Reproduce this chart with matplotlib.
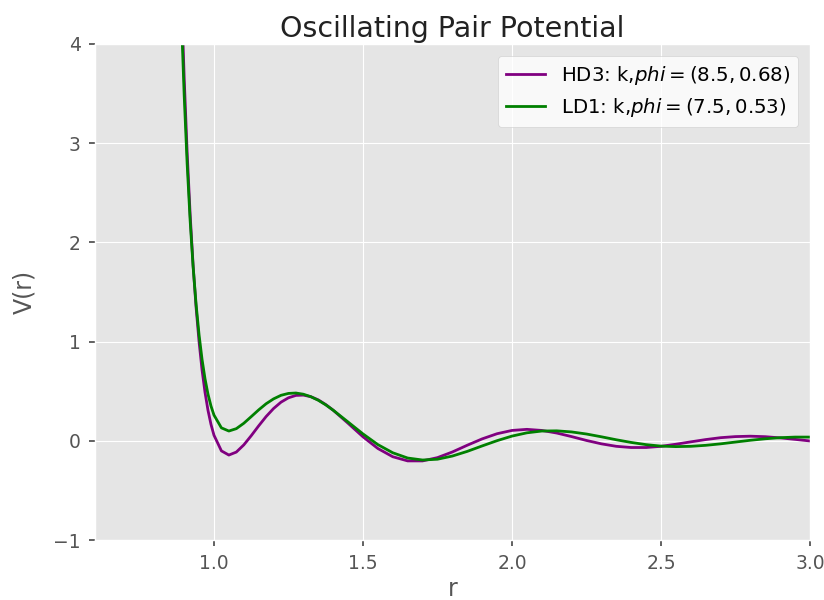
import numpy as np
import matplotlib
matplotlib.use('Agg')
import matplotlib.pyplot as plt

plt.style.use('ggplot')

# r values (denser where the curves bend sharply)
r = [0.89, 0.90, 0.91, 0.92, 0.93, 0.94, 0.95, 0.96, 0.97, 0.98, 0.99, 1.00,
     1.025, 1.05, 1.075, 1.10, 1.125, 1.15, 1.175, 1.20, 1.225, 1.25, 1.275,
     1.30, 1.325, 1.35, 1.375, 1.40, 1.45, 1.50, 1.55, 1.60, 1.65, 1.70, 1.75,
     1.80, 1.85, 1.90, 1.95, 2.00, 2.05, 2.10, 2.15, 2.20, 2.25, 2.30, 2.35,
     2.40, 2.45, 2.50, 2.55, 2.60, 2.65, 2.70, 2.75, 2.80, 2.85, 2.90, 2.95, 3.00]

# HD3 curve
v_hd3 = [4.571, 3.662, 2.908, 2.284, 1.768, 1.344, 0.997, 0.714, 0.487, 0.306, 0.165, 0.056,
         -0.102, -0.144, -0.114, -0.042, 0.051, 0.150, 0.244, 0.325, 0.389, 0.433, 0.457,
         0.460, 0.444, 0.412, 0.365, 0.308, 0.176, 0.040, -0.078, -0.161, -0.203, -0.203, -0.170,
         -0.113, -0.045, 0.019, 0.071, 0.104, 0.115, 0.104, 0.078, 0.042, 0.003, -0.031, -0.056,
         -0.068, -0.068, -0.056, -0.035, -0.011, 0.012, 0.031, 0.042, 0.046, 0.041, 0.029, 0.014, -0.002]

# LD1 curve
v_ld1 = [4.330, 3.485, 2.791, 2.221, 1.755, 1.375, 1.068, 0.820, 0.624, 0.469, 0.350, 0.259,
         0.130, 0.098, 0.122, 0.176, 0.243, 0.311, 0.373, 0.422, 0.458, 0.477, 0.481,
         0.469, 0.444, 0.408, 0.362, 0.308, 0.189, 0.069, -0.039, -0.121, -0.174, -0.194, -0.186,
         -0.154, -0.107, -0.052, 0.001, 0.047, 0.080, 0.098, 0.100, 0.089, 0.068, 0.040, 0.010,
         -0.017, -0.039, -0.054, -0.059, -0.056, -0.046, -0.031, -0.013, 0.005, 0.020, 0.031, 0.037, 0.037]

params = {'HD3': (8.5, 0.68), 'LD1': (7.5, 0.53)}

fig = plt.figure(figsize=(8.24, 6.0), dpi=100)
ax = fig.add_axes([0.115, 0.10, 0.868, 0.827])

ax.plot(r, v_hd3, color='purple', lw=2,
        label=r'HD3: k,$phi = (%s, %s)$' % params['HD3'])
ax.plot(r, v_ld1, color='green', lw=2,
        label=r'LD1: k,$phi = (%s, %s)$' % params['LD1'])

ax.set_xlim(0.6, 3.0)
ax.set_ylim(-1, 4)
ax.set_xticks([1.0, 1.5, 2.0, 2.5, 3.0])
ax.set_yticks([-1, 0, 1, 2, 3, 4])
ax.tick_params(labelsize=13.5, colors='#555555', length=4.5, width=1.3, pad=5.5)

ax.set_title('Oscillating Pair Potential', fontsize=20.5, color='#222222', pad=5)
ax.set_xlabel('r', fontsize=17, color='#555555', labelpad=3)
ax.set_ylabel('V(r)', fontsize=17, color='#555555', labelpad=12)

leg = ax.legend(loc='upper right', fontsize=14.2, facecolor='white', framealpha=0.8,
                borderaxespad=0.6)

fig.savefig('out.png', dpi=100)
